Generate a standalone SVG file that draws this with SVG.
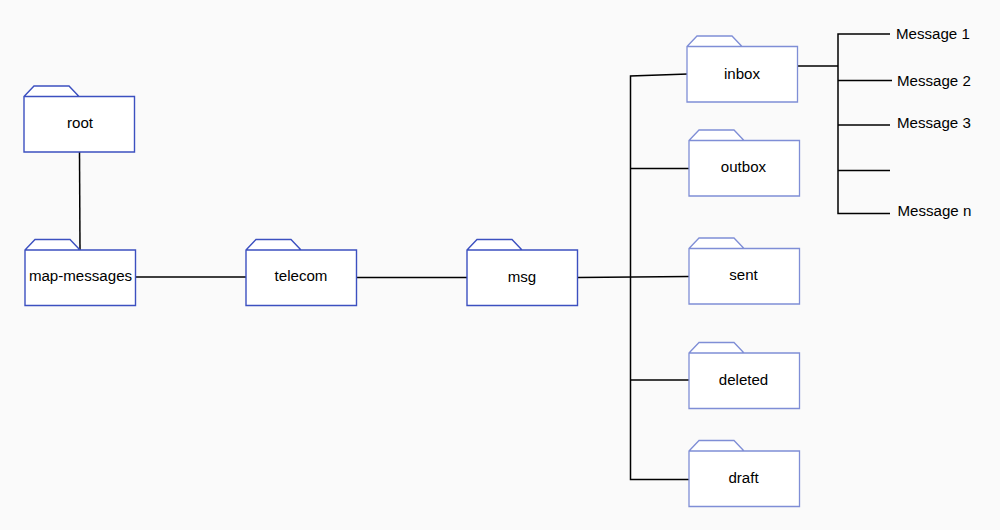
<svg xmlns="http://www.w3.org/2000/svg" width="1000" height="530" viewBox="0 0 1000 530">
<style>
text{font-family:"Liberation Sans",Arial,sans-serif;font-size:15.1px;fill:#000}
.c{text-anchor:middle}
.dark use{fill:#fff;stroke:#3c50c0;stroke-width:1.4}
.light use{fill:#fff;stroke:#7f8ed6;stroke-width:1.3}
#connectors path{fill:none;stroke:#000;stroke-width:1.5}
</style>
<defs>
<path id="folder" d="M0 10.500L10 0H45L55 10.500H110.500V66H0Z M0 10.500H55"/>
</defs>
<rect width="1000" height="530" fill="#fafafa"/>
<g id="connectors">
<path d="M79.500 152L80 250"/>
<path d="M136 277H246"/>
<path d="M357 277.500H467"/>
<path d="M578 277.500L689 276.500"/>
<path d="M688 74L630.500 76V479.500H689"/>
<path d="M630.500 168.500H689"/>
<path d="M630.500 380H689"/>
<path d="M798 66H838"/>
<path d="M890 34H838V213.500H890"/>
<path d="M838 80.500H892"/>
<path d="M838 125H890"/>
<path d="M838 170.500H890"/>
</g>
<g id="root" class="dark"><use href="#folder" x="24" y="86"/><text class="c" x="80" y="128">root</text></g>
<g id="map-messages" class="dark"><use href="#folder" x="25" y="239.500"/><text class="c" x="80.500" y="281">map-messages</text></g>
<g id="telecom" class="dark"><use href="#folder" x="246" y="239.500"/><text class="c" x="301" y="281">telecom</text></g>
<g id="msg" class="dark"><use href="#folder" x="467" y="239.500"/><text class="c" x="522" y="282">msg</text></g>
<g id="inbox" class="light"><use href="#folder" x="687" y="36"/><text class="c" x="742" y="79">inbox</text></g>
<g id="outbox" class="light"><use href="#folder" x="689" y="130"/><text class="c" x="743.500" y="172">outbox</text></g>
<g id="sent" class="light"><use href="#folder" x="689" y="238"/><text class="c" x="743.500" y="280">sent</text></g>
<g id="deleted" class="light"><use href="#folder" x="689" y="342.500"/><text class="c" x="743.500" y="385">deleted</text></g>
<g id="draft" class="light"><use href="#folder" x="689" y="440.500"/><text class="c" x="743.500" y="483">draft</text></g>
<g id="message-1"><text x="896" y="39">Message 1</text></g>
<g id="message-2"><text x="897" y="86">Message 2</text></g>
<g id="message-3"><text x="897" y="128">Message 3</text></g>
<g id="message-n"><text x="897.500" y="216">Message n</text></g>
</svg>
